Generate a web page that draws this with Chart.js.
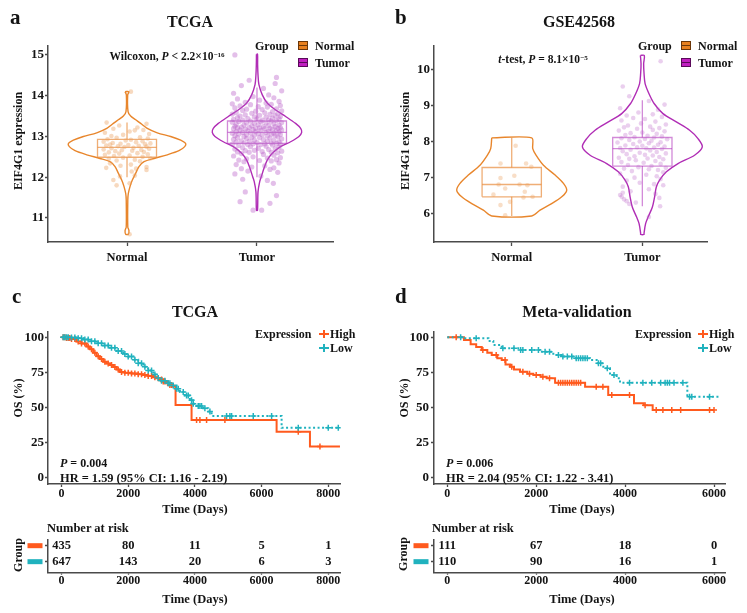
<!DOCTYPE html>
<html><head><meta charset="utf-8">
<script src="https://cdn.jsdelivr.net/npm/chart.js@4.4.1/dist/chart.umd.min.js"></script>
<style>
html,body{margin:0;padding:0;background:#fff}
#wrap{position:relative;width:747px;height:613px;overflow:hidden;font-family:'Liberation Serif','Times New Roman',serif;font-weight:bold;color:#141414}
canvas{position:absolute}
.t{position:absolute;white-space:nowrap;line-height:1}
.c{transform:translate(-50%,-50%)}
.l{transform:translateY(-50%)}
.v{transform:translate(-50%,-50%) rotate(-90deg)}
.sp{font-size:0.62em;position:relative;top:-0.45em}
.ico{position:absolute;width:8px;height:7px;border:1px solid}
.ico div{position:absolute;left:0;right:0;top:3px;height:1px}
.mk{position:absolute}
</style></head><body><div id="wrap">
<canvas id="ca"></canvas><canvas id="cb"></canvas>
<canvas id="cc"></canvas><canvas id="cd"></canvas>
<canvas id="rc"></canvas><canvas id="rd"></canvas>

<div class="t l" style="left:10px;top:17px;font-size:21px">a</div>
<div class="t c" style="left:190px;top:22px;font-size:16px">TCGA</div>
<div class="t l" style="left:395px;top:17px;font-size:21px">b</div>
<div class="t c" style="left:579px;top:22px;font-size:16px">GSE42568</div>
<div class="t v" style="left:18px;top:141px;font-size:12px">EIF4G1 expression</div>
<div class="t v" style="left:405px;top:141px;font-size:12px">EIF4G1 expression</div>
<div class="t c" style="left:167px;top:57px;font-size:11.5px">Wilcoxon, <i>P</i> &lt; 2.2×10<span class="sp">−16</span></div>
<div class="t c" style="left:543px;top:60px;font-size:11.5px"><i>t</i>-test, <i>P</i> = 8.1×10<span class="sp">−5</span></div>

<div class="t l" style="left:255px;top:46px;font-size:12px">Group</div>
<div class="ico" style="left:298px;top:41px;background:#E8801E;border-color:#6b3608"><div style="background:#6b3608"></div></div>
<div class="t l" style="left:315px;top:46px;font-size:12px">Normal</div>
<div class="ico" style="left:298px;top:58px;background:#C01FC0;border-color:#5a0a5a"><div style="background:#5a0a5a"></div></div>
<div class="t l" style="left:315px;top:63px;font-size:12px">Tumor</div>

<div class="t l" style="left:638px;top:46px;font-size:12px">Group</div>
<div class="ico" style="left:681px;top:41px;background:#E8801E;border-color:#6b3608"><div style="background:#6b3608"></div></div>
<div class="t l" style="left:698px;top:46px;font-size:12px">Normal</div>
<div class="ico" style="left:681px;top:58px;background:#C01FC0;border-color:#5a0a5a"><div style="background:#5a0a5a"></div></div>
<div class="t l" style="left:698px;top:63px;font-size:12px">Tumor</div>

<div class="t l" style="left:12px;top:296px;font-size:21px">c</div>
<div class="t c" style="left:195px;top:312px;font-size:16px">TCGA</div>
<div class="t l" style="left:395px;top:296px;font-size:21px">d</div>
<div class="t c" style="left:577px;top:312px;font-size:16px">Meta-validation</div>
<div class="t v" style="left:18px;top:398px;font-size:12px">OS (%)</div>
<div class="t v" style="left:404px;top:398px;font-size:12px">OS (%)</div>

<div class="t l" style="left:255px;top:333.5px;font-size:12px">Expression</div>
<div class="mk" style="left:319px;top:333px;width:10px;height:2px;background:#FF5A1E"></div>
<div class="mk" style="left:323px;top:330px;width:2px;height:8px;background:#FF5A1E"></div>
<div class="t l" style="left:330px;top:333.5px;font-size:12px">High</div>
<div class="mk" style="left:319px;top:347px;width:10px;height:2px;background:#20B2BE"></div>
<div class="mk" style="left:323px;top:344px;width:2px;height:8px;background:#20B2BE"></div>
<div class="t l" style="left:330px;top:347.7px;font-size:12px">Low</div>

<div class="t l" style="left:635px;top:333.5px;font-size:12px">Expression</div>
<div class="mk" style="left:698px;top:333px;width:10px;height:2px;background:#FF5A1E"></div>
<div class="mk" style="left:702px;top:330px;width:2px;height:8px;background:#FF5A1E"></div>
<div class="t l" style="left:709px;top:333.5px;font-size:12px">High</div>
<div class="mk" style="left:698px;top:347px;width:10px;height:2px;background:#20B2BE"></div>
<div class="mk" style="left:702px;top:344px;width:2px;height:8px;background:#20B2BE"></div>
<div class="t l" style="left:709px;top:347.7px;font-size:12px">Low</div>

<div class="t l" style="left:60px;top:463px;font-size:12px"><i>P</i> = 0.004</div>
<div class="t l" style="left:60px;top:477.5px;font-size:12.4px">HR = 1.59 (95% CI: 1.16 - 2.19)</div>
<div class="t l" style="left:446px;top:463px;font-size:12px"><i>P</i> = 0.006</div>
<div class="t l" style="left:446px;top:477.5px;font-size:12.4px">HR = 2.04 (95% CI: 1.22 - 3.41)</div>
<div class="t c" style="left:195px;top:509px;font-size:12.5px">Time (Days)</div>
<div class="t c" style="left:582px;top:509px;font-size:12.5px">Time (Days)</div>

<div class="t l" style="left:47px;top:527.7px;font-size:12.5px">Number at risk</div>
<div class="t l" style="left:432px;top:527.7px;font-size:12.5px">Number at risk</div>
<div class="t v" style="left:18px;top:554.5px;font-size:12px">Group</div>
<div class="t v" style="left:403px;top:554px;font-size:12px">Group</div>
<div class="t c" style="left:195px;top:599px;font-size:12.5px">Time (Days)</div>
<div class="t c" style="left:582px;top:599px;font-size:12.5px">Time (Days)</div>
</div>
<script>
// ---------------- DATA ----------------
const violinCategories = ['Normal', 'Tumor'];
const tcgaYTicks = [11, 12, 13, 14, 15];
const gseYTicks = [6, 7, 8, 9, 10];

// violin outlines: expression value and half-width (fraction of category spacing)
const tcgaNormalViolinY = [14.10,14.02,13.61,13.50,13.41,13.32,13.20,13.09,13.00,12.91,12.83,12.75,12.65,12.55,12.46,12.38,12.26,12.10,11.93,11.77,11.60,11.44,10.78,10.69,10.60];
const tcgaNormalViolinW = [0.015,0.005,0.008,0.028,0.067,0.105,0.156,0.233,0.336,0.413,0.451,0.444,0.400,0.310,0.208,0.131,0.092,0.067,0.041,0.023,0.010,0.006,0.006,0.015,0.010];
const tcgaTumorViolinY = [15.02,14.76,14.51,14.27,14.02,13.82,13.65,13.49,13.32,13.20,13.10,13.00,12.87,12.75,12.59,12.42,12.22,12.01,11.89,11.64,11.19];
const tcgaTumorViolinW = [0.004,0.005,0.008,0.015,0.041,0.079,0.144,0.221,0.297,0.336,0.344,0.323,0.259,0.182,0.118,0.079,0.054,0.033,0.021,0.008,0.004];
const gseNormalViolinY = [8.10,7.80,7.62,7.34,7.07,6.84,6.65,6.47,6.28,6.10,5.94];
const gseNormalViolinW = [0.153,0.161,0.186,0.243,0.332,0.396,0.421,0.383,0.306,0.217,0.153];
const gseTumorViolinY = [10.38,10.15,9.88,9.60,9.32,9.05,8.77,8.54,8.31,8.08,7.85,7.62,7.39,7.16,6.93,6.74,6.47,6.19,5.91,5.73,5.46,5.43];
const gseTumorViolinW = [0.015,0.010,0.013,0.021,0.051,0.090,0.158,0.260,0.362,0.426,0.459,0.400,0.273,0.184,0.132,0.107,0.094,0.077,0.044,0.025,0.013,0.013];

// box stats: [lower whisker, Q1, median, Q3, upper whisker]
const tcgaNormalBox = [12.00, 12.49, 12.73, 12.93, 13.34];
const tcgaTumorBox = [12.00, 12.83, 13.10, 13.38, 14.20];
const gseNormalBox = [5.94, 6.47, 6.81, 7.28, 8.10];
const gseTumorBox = [6.21, 7.32, 7.80, 8.11, 9.14];

// jittered samples: [x offset from category, expression]
const tcgaNormalPoints = [[0.03,14.10],[-0.157,13.34],[0.15,13.31],[-0.06,13.27],[0.08,13.22],[-0.105,13.19],[0.126,13.16],[0.02,13.12],[-0.17,13.09],[0.17,13.06],[-0.03,13.04],[0.06,13.15],[-0.12,13.01],[0.10,12.98],[-0.08,12.97],[0.16,12.95],[-0.15,12.93],[0.03,12.92],[-0.01,12.90],[0.12,12.88],[-0.18,12.87],[0.07,12.86],[-0.11,12.84],[0.18,12.83],[-0.05,12.82],[0.14,12.81],[-0.13,12.80],[0.01,12.79],[-0.16,12.78],[0.09,12.77],[-0.07,12.76],[0.15,12.75],[-0.02,12.74],[0.05,12.72],[-0.12,12.71],[0.17,12.70],[-0.18,12.68],[0.11,12.67],[-0.04,12.66],[0.04,12.65],[-0.09,12.64],[0.13,12.62],[-0.14,12.61],[0.08,12.59],[-0.06,12.58],[0.16,12.56],[-0.17,12.55],[0.02,12.53],[-0.10,12.52],[0.12,12.50],[-0.03,12.48],[0.18,12.46],[-0.14,12.45],[0.06,12.43],[-0.08,12.41],[0.10,12.39],[-0.13,12.34],[0.03,12.31],[-0.05,12.28],[0.15,12.25],[-0.16,12.23],[0.07,12.21],[0.036,12.14],[0.15,12.18],[-0.054,12.02],[0.06,12.04],[-0.105,11.93],[-0.08,11.80],[0.02,11.85],[0.02,10.60]];
const tcgaTumorPoints = [[-0.17,15.00],[0.15,14.45],[0.14,14.30],[-0.06,14.38],[-0.12,14.25],[0.05,14.18],[0.19,14.12],[-0.18,14.06],[0.09,14.02],[-0.03,13.98],[0.13,13.95],[-0.15,13.92],[0.02,13.89],[0.17,13.86],[-0.09,13.84],[0.07,13.82],[-0.19,13.80],[0.11,13.79],[-0.05,13.78],[0.18,13.76],[-0.13,13.75],[0.01,13.73],[0.08,13.72],[-0.17,13.70],[0.15,13.68],[-0.08,13.67],[0.04,13.66],[-0.11,13.64],[0.19,13.63],[-0.01,13.62],[0.12,13.61],[-0.16,13.59],[0.06,13.58],[-0.04,13.57],[0.16,13.56],[-0.19,13.55],[0.10,13.54],[-0.09,13.53],[0.02,13.52],[0.14,13.51],[-0.13,13.50],[0.18,13.49],[-0.02,13.48],[0.07,13.47],[-0.15,13.46],[0.12,13.45],[-0.07,13.44],[0.00,13.43],[0.17,13.43],[-0.18,13.42],[0.09,13.41],[-0.11,13.40],[0.04,13.40],[0.15,13.39],[-0.05,13.38],[0.11,13.38],[-0.14,13.37],[0.03,13.36],[-0.19,13.35],[0.19,13.34],[-0.08,13.33],[0.07,13.33],[-0.02,13.32],[0.13,13.31],[-0.16,13.30],[0.01,13.29],[0.17,13.28],[-0.10,13.28],[0.09,13.27],[-0.04,13.26],[-0.17,13.25],[0.14,13.24],[0.05,13.24],[-0.12,13.23],[0.18,13.22],[-0.06,13.22],[0.02,13.21],[-0.15,13.21],[0.10,13.20],[-0.01,13.20],[0.16,13.20],[-0.18,13.19],[0.06,13.19],[-0.09,13.18],[0.12,13.18],[-0.03,13.17],[0.19,13.16],[-0.13,13.16],[0.03,13.15],[0.15,13.14],[-0.07,13.14],[0.09,13.13],[-0.16,13.12],[-0.01,13.12],[0.17,13.11],[-0.11,13.10],[0.07,13.10],[-0.05,13.09],[0.13,13.08],[-0.19,13.08],[0.01,13.07],[0.11,13.06],[-0.14,13.06],[0.18,13.05],[-0.08,13.04],[0.04,13.04],[-0.02,13.03],[0.14,13.02],[-0.17,13.02],[0.08,13.01],[-0.10,13.00],[0.16,12.99],[-0.04,12.98],[0.02,12.97],[-0.15,12.97],[0.10,12.96],[-0.08,12.95],[0.19,12.94],[-0.18,12.93],[0.05,12.92],[-0.02,12.91],[0.13,12.90],[-0.12,12.89],[0.08,12.88],[-0.06,12.88],[0.17,12.87],[-0.16,12.86],[0.00,12.85],[0.11,12.84],[-0.10,12.84],[0.15,12.83],[-0.03,12.82],[0.06,12.82],[-0.19,12.81],[0.18,12.81],[-0.07,12.80],[0.03,12.80],[0.12,12.79],[-0.14,12.78],[0.07,12.76],[-0.05,12.75],[0.17,12.74],[-0.11,12.72],[0.01,12.71],[0.14,12.70],[-0.17,12.69],[0.09,12.68],[-0.02,12.66],[-0.09,12.65],[0.19,12.64],[0.04,12.63],[-0.15,12.62],[0.11,12.61],[-0.06,12.61],[0.16,12.60],[-0.12,12.58],[0.05,12.56],[0.13,12.54],[-0.18,12.52],[-0.03,12.50],[0.18,12.48],[0.08,12.47],[-0.08,12.45],[0.15,12.43],[-0.14,12.42],[0.02,12.41],[0.11,12.40],[-0.10,12.38],[0.17,12.35],[-0.16,12.31],[0.06,12.28],[-0.04,12.25],[0.13,12.23],[-0.12,12.21],[0.10,12.19],[-0.07,12.15],[0.16,12.12],[-0.17,12.08],[0.03,12.03],[0.126,11.85],[-0.11,11.95],[0.08,11.92],[-0.09,11.64],[-0.13,11.40],[0.10,11.36],[-0.03,11.19],[0.036,11.19],[0.15,11.55]];
const gseNormalPoints = [[0.03,7.88],[-0.086,7.39],[0.11,7.39],[0.15,7.30],[-0.086,6.99],[-0.10,6.81],[0.06,6.81],[0.12,6.79],[-0.05,6.70],[0.10,6.61],[-0.14,6.53],[0.09,6.45],[0.16,6.47],[-0.013,6.33],[-0.086,6.24],[-0.05,5.96],[0.02,7.05]];
const gseTumorPoints = [[0.14,10.22],[-0.15,9.52],[-0.10,9.25],[0.05,9.12],[0.17,9.02],[-0.17,8.92],[0.12,8.88],[-0.03,8.80],[0.08,8.75],[-0.12,8.72],[0.15,8.68],[-0.07,8.65],[0.02,8.62],[-0.16,8.58],[0.10,8.55],[-0.01,8.50],[0.18,8.47],[-0.11,8.44],[0.06,8.41],[-0.14,8.39],[0.13,8.37],[-0.04,8.35],[0.08,8.32],[-0.18,8.30],[0.17,8.28],[0.00,8.25],[-0.09,8.23],[0.11,8.21],[-0.13,8.18],[0.04,8.16],[0.15,8.14],[-0.06,8.12],[0.09,8.11],[-0.16,8.09],[0.02,8.07],[0.19,8.06],[-0.10,8.04],[0.07,8.02],[-0.02,8.00],[0.14,7.98],[-0.19,7.97],[0.05,7.95],[-0.07,7.93],[0.12,7.91],[-0.13,7.89],[0.00,7.88],[0.17,7.86],[-0.04,7.84],[0.09,7.83],[-0.17,7.82],[0.03,7.81],[0.15,7.79],[-0.09,7.77],[0.06,7.75],[-0.15,7.73],[0.11,7.71],[-0.02,7.69],[0.18,7.67],[-0.12,7.65],[0.02,7.63],[0.08,7.61],[-0.06,7.59],[0.13,7.57],[-0.18,7.55],[0.04,7.53],[-0.10,7.52],[0.16,7.51],[-0.05,7.48],[0.10,7.46],[-0.16,7.43],[0.01,7.41],[0.14,7.38],[-0.11,7.35],[0.07,7.32],[-0.03,7.29],[0.18,7.27],[-0.14,7.25],[0.05,7.23],[0.12,7.21],[-0.08,7.18],[0.16,7.15],[-0.17,7.11],[0.03,7.08],[0.11,7.04],[-0.06,7.00],[0.14,6.96],[-0.12,6.92],[0.16,6.79],[-0.02,6.86],[0.09,6.82],[-0.15,6.75],[0.05,6.68],[-0.09,6.62],[-0.158,6.47],[-0.14,6.40],[-0.17,6.52],[-0.12,6.35],[0.10,6.55],[-0.05,6.31],[0.13,6.44],[-0.15,6.58],[0.136,6.21],[-0.10,6.27],[0.05,5.91]];

// Kaplan-Meier curves (time in days, survival %)
const kmXTicksC = [0, 2000, 4000, 6000, 8000];
const kmXTicksD = [0, 2000, 4000, 6000];
const kmYTicks = [0, 25, 50, 75, 100];
const tcgaHighTime = [0,150,300,450,600,750,850,950,1050,1150,1250,1350,1450,1550,1650,1750,1900,2100,2300,2450,2600,2750,2850,2950,3050,3150,3250,3330,3420,3900,6450,7450,8350];
const tcgaHighSurv = [100,99.5,98.8,97,95.5,93.5,91.5,89,86.5,84.5,82.5,81.2,80.2,78.8,77,75.2,74.7,74.2,73.6,73,72.3,71.4,70.7,69.8,68.5,67.2,66,64.8,51.6,40.9,32.6,21.9,21.9];
const tcgaLowTime = [0,250,450,650,850,1050,1250,1450,1650,1850,2000,2150,2300,2450,2600,2750,2850,3000,3150,3300,3450,3550,3700,3850,3950,4050,4250,4400,4500,6600,8350];
const tcgaLowSurv = [100,99.8,99.3,98.5,97.2,95.8,94.2,92.5,90.2,88,86.3,84,81.5,79,76.3,73.5,71,69,67.2,65.5,63.3,61,58.5,55,52.5,51,49.3,47,43.8,35.4,35.4];
const tcgaHighCensor = [50,100,150,200,250,300,400,500,600,700,800,900,1000,1100,1200,1300,1400,1500,1600,1700,1800,1900,2000,2100,2200,2300,2400,2500,2600,2700,2800,2900,3000,3050,3100,3200,3250,3300,4050,4150,4350,4900,7100,7750];
const tcgaLowCensor = [50,100,150,200,300,400,500,600,700,800,900,1000,1100,1200,1300,1400,1500,1600,1700,1800,1900,2000,2100,2200,2300,2400,2500,2600,2700,2800,2900,3000,3100,3200,3250,3350,3450,3500,3650,3750,3800,3900,3950,4100,4150,4200,4300,4450,4950,5050,5100,5750,6300,7100,8000,8300];
const metaHighTime = [0,250,375,525,650,775,900,1000,1125,1225,1310,1410,1500,1635,1800,1935,2100,2235,2425,3100,3620,4200,4420,4620,6000];
const metaHighSurv = [100,100,98,95,93,91,89,87.4,85,83.8,80.5,79,77,75.4,74,73,71.9,70.7,67.6,64.7,58.8,52.9,51.5,48.1,48.1];
const metaLowTime = [0,400,925,1035,1225,1635,2085,2385,2600,2835,3210,3360,3510,3660,3810,3885,5400,6150];
const metaLowSurv = [100,99.3,97.4,94.5,92.1,90.9,89.7,87.4,86.2,85,83.8,81.4,77.9,73,70.7,67.6,57.6,57.6];
const metaHighCensor = [200,800,1100,1300,1450,1700,1850,2000,2150,2300,2500,2550,2600,2650,2700,2750,2800,2850,2900,2950,3000,3350,3500,3700,4100,4450,4700,4850,5050,5250,5900,6000];
const metaLowCensor = [300,650,1250,1500,1650,1700,1900,2050,2200,2300,2500,2600,2700,2800,2900,2950,3000,3050,3100,3150,3400,3450,3600,3750,4100,4400,4600,4800,4900,4950,5000,5100,5300,5450,5500,5900];

// number at risk
const riskTimesC = [0, 2000, 4000, 6000, 8000];
const riskHighC = [435, 80, 11, 5, 1];
const riskLowC = [647, 143, 20, 6, 3];
const riskTimesD = [0, 2000, 4000, 6000];
const riskHighD = [111, 67, 18, 0];
const riskLowD = [110, 90, 16, 1];

// ---------------- DRAWING ----------------
const FONT = "'Liberation Serif','Times New Roman',serif";
const AX = '#4a4a4a';
const TXT = '#141414';
const HIGH = '#FF5A1E', LOW = '#20B2BE';
const ORANGE = '#E8862C', PURPLE = '#B02DB5';

function axisCfg(c) {
  return {
    type: 'linear', min: c.min, max: c.max,
    afterFit: s => { if (s.isHorizontal()) s.height = c.size; else s.width = c.size; },
    afterBuildTicks: s => { s.ticks = c.ticks.map(v => ({ value: v })); },
    ticks: { callback: c.label || (v => String(v)), font: { family: FONT, weight: 'bold', size: c.fs }, color: TXT,
             padding: c.pad, autoSkip: false, maxRotation: 0, minRotation: 0 },
    grid: { display: true, drawOnChartArea: false, drawTicks: true, tickLength: c.tl, tickWidth: 1.3, tickColor: AX, color: AX },
    border: { display: true, color: AX, width: 1.5 }
  };
}
function build(id, L, T, W, H, area, sx, sy, datasets, plugins) {
  const cv = document.getElementById(id);
  cv.width = W; cv.height = H; cv.style.left = L + 'px'; cv.style.top = T + 'px';
  sx.size = T + H - area[3];
  sy.size = area[0] - L;
  return new Chart(cv, {
    type: 'scatter',
    data: { datasets },
    options: {
      responsive: false, animation: false, devicePixelRatio: 1, events: [],
      layout: { padding: { left: 0, top: area[1] - T, right: L + W - area[2], bottom: 0 } },
      plugins: { legend: { display: false }, tooltip: { enabled: false }, title: { display: false } },
      scales: { x: axisCfg(sx), y: axisCfg(sy) }
    },
    plugins: plugins || []
  });
}
function line(data, color, width, extra) {
  return Object.assign({ data, showLine: true, borderColor: color, borderWidth: width, pointRadius: 0, fill: false, tension: 0 }, extra || {});
}
function violin(cx, ys, ws, color) {
  const left = ys.map((y, i) => ({ x: cx - ws[i], y }));
  const right = ys.map((y, i) => ({ x: cx + ws[i], y })).reverse();
  return line([...left, ...right, left[0]], color, 1.4, { tension: 0.3, order: 3 });
}
function box(cx, st, bw, color) {
  const [lo, q1, md, q3, hi] = st;
  const o = { order: 2 };
  return [
    line([{x:cx-bw,y:q1},{x:cx+bw,y:q1},{x:cx+bw,y:q3},{x:cx-bw,y:q3},{x:cx-bw,y:q1}], color, 1.3, o),
    line([{x:cx-bw,y:md},{x:cx+bw,y:md}], color, 1.3, o),
    line([{x:cx,y:q3},{x:cx,y:hi}], color, 1.3, o),
    line([{x:cx,y:q1},{x:cx,y:lo}], color, 1.3, o)
  ];
}
function jitter(cx, pts, color, r) {
  return { data: pts.map(p => ({ x: cx + p[0], y: p[1] })), showLine: false, pointRadius: r, pointBorderWidth: 0,
           pointBackgroundColor: color, backgroundColor: color, borderColor: 'rgba(0,0,0,0)', order: 1 };
}
const catLabel = v => violinCategories[Math.round(v) - 1] || '';
const BW = 0.227;

build('ca', 0, 0, 374, 275, [48, 46, 333, 242],
  { min: 0.392, max: 2.585, ticks: [1, 2], label: catLabel, fs: 12.5, tl: 4, pad: 4 },
  { min: 10.41, max: 15.22, ticks: tcgaYTicks, fs: 13, tl: 3, pad: 1 },
  [ jitter(1, tcgaNormalPoints, 'rgba(236,160,95,0.40)', 2.3),
    jitter(2, tcgaTumorPoints, 'rgba(185,95,200,0.40)', 2.6),
    ...box(1, tcgaNormalBox, BW, 'rgba(232,140,60,0.7)'),
    ...box(2, tcgaTumorBox, BW, 'rgba(180,60,190,0.6)'),
    violin(1, tcgaNormalViolinY, tcgaNormalViolinW, ORANGE),
    violin(2, tcgaTumorViolinY, tcgaTumorViolinW, PURPLE) ]);

build('cb', 374, 0, 373, 275, [434, 46, 707, 242],
  { min: 0.405, max: 2.495, ticks: [1, 2], label: catLabel, fs: 12.5, tl: 4, pad: 4 },
  { min: 5.22, max: 10.64, ticks: gseYTicks, fs: 13, tl: 3, pad: 1 },
  [ jitter(1, gseNormalPoints, 'rgba(236,160,95,0.35)', 2.3),
    jitter(2, gseTumorPoints, 'rgba(185,95,200,0.30)', 2.3),
    ...box(1, gseNormalBox, BW, 'rgba(232,140,60,0.7)'),
    ...box(2, gseTumorBox, BW, 'rgba(180,60,190,0.6)'),
    violin(1, gseNormalViolinY, gseNormalViolinW, ORANGE),
    violin(2, gseTumorViolinY, gseTumorViolinW, PURPLE) ]);

function survAt(times, surv, t) {
  let s = surv[0];
  for (let i = 0; i < times.length; i++) { if (times[i] <= t) s = surv[i]; else break; }
  return s;
}
function kmCurve(times, surv, color, dash) {
  return line(times.map((t, i) => ({ x: t, y: surv[i] })), color, 2, { stepped: 'before', borderDash: dash || [], order: 2 });
}
function censor(ct, times, surv, color) {
  return { data: ct.map(t => ({ x: t, y: survAt(times, surv, t) })), showLine: false, pointStyle: 'cross',
           pointRadius: 3, pointBorderWidth: 1.5, pointBorderColor: color, borderColor: color, order: 1 };
}

build('cc', 0, 300, 374, 215, [48, 331.7, 340.7, 484],
  { min: -405, max: 8372, ticks: kmXTicksC, fs: 12, tl: 3, pad: 0 },
  { min: -4.8, max: 104, ticks: kmYTicks, fs: 13, tl: 3, pad: 1 },
  [ kmCurve(tcgaLowTime, tcgaLowSurv, LOW, [2, 2.5]),
    kmCurve(tcgaHighTime, tcgaHighSurv, HIGH),
    censor(tcgaLowCensor, tcgaLowTime, tcgaLowSurv, LOW),
    censor(tcgaHighCensor, tcgaHighTime, tcgaHighSurv, HIGH) ]);

build('cd', 374, 300, 373, 215, [434, 331.7, 725.7, 484],
  { min: -299, max: 6263, ticks: kmXTicksD, fs: 12, tl: 3, pad: 0 },
  { min: -4.8, max: 104, ticks: kmYTicks, fs: 13, tl: 3, pad: 2 },
  [ kmCurve(metaLowTime, metaLowSurv, LOW, [2, 2.5]),
    kmCurve(metaHighTime, metaHighSurv, HIGH),
    censor(metaLowCensor, metaLowTime, metaLowSurv, LOW),
    censor(metaHighCensor, metaHighTime, metaHighSurv, HIGH) ]);

function riskPlugin(times, rows) {
  return {
    id: 'risk',
    afterDatasetsDraw(chart) {
      const { ctx, scales: { x, y } } = chart;
      ctx.save();
      ctx.font = 'bold 12.5px ' + FONT;
      ctx.textAlign = 'center'; ctx.textBaseline = 'middle';
      rows.forEach(r => {
        const py = y.getPixelForValue(r.row);
        ctx.fillStyle = TXT;
        r.values.forEach((v, i) => ctx.fillText(String(v), x.getPixelForValue(times[i]), py));
        ctx.fillStyle = r.color;
        ctx.fillRect(x.left - 20.5, py - 2.5, 15, 5);
      });
      ctx.restore();
    }
  };
}
build('rc', 0, 530, 374, 70, [48, 539.3, 340.7, 572.7],
  { min: -405, max: 8372, ticks: kmXTicksC, fs: 12, tl: 2, pad: -1 },
  { min: 0.31, max: 2.4, ticks: [1, 2], label: () => '', fs: 12, tl: 3, pad: 0 },
  [], [riskPlugin(riskTimesC, [{ row: 2, values: riskHighC, color: HIGH }, { row: 1, values: riskLowC, color: LOW }])]);
build('rd', 374, 530, 373, 70, [434, 539.3, 725.7, 572.7],
  { min: -299, max: 6263, ticks: kmXTicksD, fs: 12, tl: 2, pad: -1 },
  { min: 0.31, max: 2.4, ticks: [1, 2], label: () => '', fs: 12, tl: 3, pad: 0 },
  [], [riskPlugin(riskTimesD, [{ row: 2, values: riskHighD, color: HIGH }, { row: 1, values: riskLowD, color: LOW }])]);
</script>
</body></html>
